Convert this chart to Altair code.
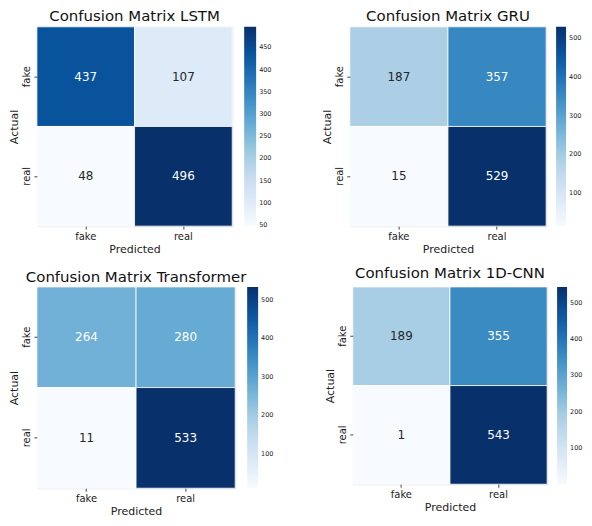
import altair as alt
import pandas as pd

labels = ["fake", "real"]
# rows: actual fake / actual real ; columns: predicted fake / predicted real
cm_lstm = [[437, 107], [48, 496]]
cm_gru = [[187, 357], [15, 529]]
cm_transformer = [[264, 280], [11, 533]]
cm_cnn = [[189, 355], [1, 543]]

ticks_lstm = [50, 100, 150, 200, 250, 300, 350, 400, 450]
ticks_other = [100, 200, 300, 400, 500]

blues = ["#f7fbff", "#deebf7", "#c6dbef", "#9ecae1", "#6baed6",
         "#4292c6", "#2171b5", "#08519c", "#08306b"]

FONT = "DejaVu Sans"


def panel(name, cm, ticks, width, height, grad, title_offset, legend_offset):
    rows = []
    for i, a in enumerate(labels):
        for j, p in enumerate(labels):
            rows.append({"Actual": a, "Predicted": p, "count": cm[i][j]})
    df = pd.DataFrame(rows)
    lo, hi = int(df["count"].min()), int(df["count"].max())
    df["tc"] = ["#ffffff" if (v - lo) / (hi - lo) > 0.42 else "#262626" for v in df["count"]]
    domain = [lo + (hi - lo) * k / 8 for k in range(9)]

    base = alt.Chart(df).encode(
        x=alt.X("Predicted:N", sort=labels, title="Predicted",
                axis=alt.Axis(labelAngle=0, labelFontSize=10, titleFontSize=11,
                              labelFont=FONT, titleFont=FONT, titleFontWeight="normal",
                              labelColor="#222222", titleColor="#222222",
                              domain=False, grid=False, tickSize=3, tickColor="#444444",
                              labelPadding=2, titlePadding=2)),
        y=alt.Y("Actual:N", sort=labels, title="Actual",
                axis=alt.Axis(labelAngle=270, labelAlign="center", labelBaseline="bottom",
                              labelFontSize=10, titleFontSize=11,
                              labelFont=FONT, titleFont=FONT, titleFontWeight="normal",
                              labelColor="#222222", titleColor="#222222",
                              domain=False, grid=False, tickSize=3, tickColor="#444444",
                              labelPadding=2, titlePadding=2)),
    )
    rect = base.mark_rect(stroke="white", strokeWidth=0.8).encode(
        fill=alt.Fill("count:Q",
                      scale=alt.Scale(domain=domain, range=blues),
                      legend=alt.Legend(title=None, orient="right", direction="vertical",
                                        gradientLength=height, gradientThickness=grad,
                                        values=ticks, labelFontSize=6.5, labelFont=FONT,
                                        labelColor="#222222", offset=legend_offset,
                                        labelOffset=3, gradientStrokeWidth=0))
    )
    text = base.mark_text(fontSize=12, font=FONT).encode(
        text="count:Q",
        color=alt.Color("tc:N", scale=None),
    )
    return alt.layer(rect, text).properties(
        width=width, height=height,
        title=alt.Title("Confusion Matrix " + name, fontSize=15, font=FONT,
                        fontWeight="normal", color="#111111", frame="group",
                        anchor="middle", offset=title_offset),
    )


p1 = panel("LSTM", cm_lstm, ticks_lstm, 196, 200, 12, 2, 12)
p2 = panel("GRU", cm_gru, ticks_other, 197, 200, 10, 2, 10)
p3 = panel("Transformer", cm_transformer, ticks_other, 199, 202, 11, 2, 12)
p4 = panel("1D-CNN", cm_cnn, ticks_other, 195, 198, 10, 6, 10)

row1 = alt.hconcat(p1, p2, spacing=48).resolve_scale(fill="independent")
row2 = alt.hconcat(p3, p4, spacing=49).resolve_scale(fill="independent")

chart = alt.vconcat(row1, row2, spacing=10).resolve_scale(fill="independent").configure_view(
    stroke=None
).properties(padding=0).configure(background="white")

chart.save("out.html", embed_options={"renderer": "svg", "actions": False})
